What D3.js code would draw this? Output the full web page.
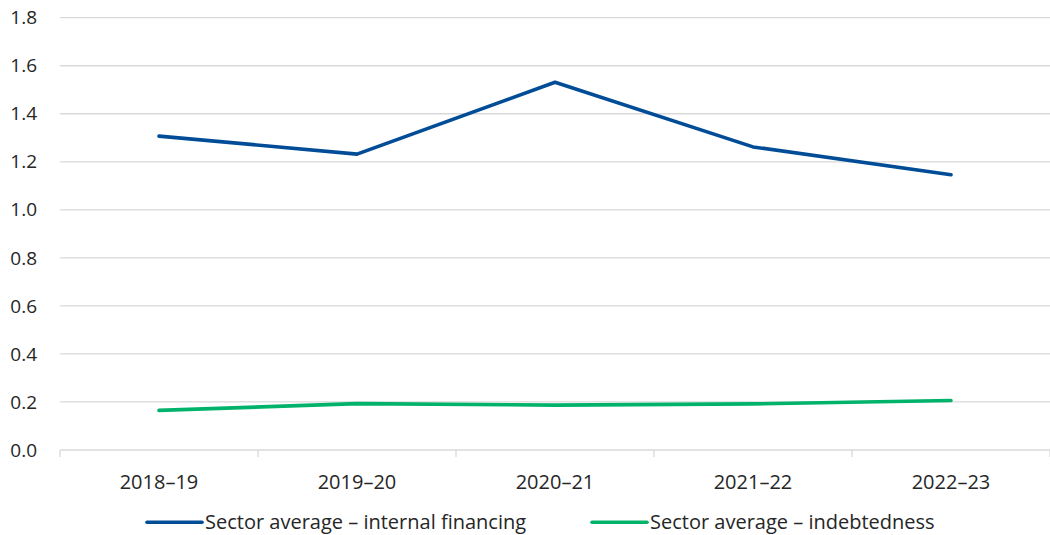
<!DOCTYPE html>
<html><head><meta charset="utf-8">
<script src="https://cdn.jsdelivr.net/npm/d3@7"></script>
<style>body{margin:0;background:#fff;font-family:"Open Sans","Noto Sans",sans-serif;}</style>
</head><body>
<svg id="c" width="1050" height="535"></svg>
<script>
const categories = ["2018–19","2019–20","2020–21","2021–22","2022–23"];
const internalFinancing = [1.307,1.232,1.531,1.262,1.146];
const indebtedness = [0.165,0.193,0.187,0.192,0.206];
const yTicks = [0,0.2,0.4,0.6,0.8,1.0,1.2,1.4,1.6,1.8];
const seriesNames = ["Sector average – internal financing","Sector average – indebtedness"];
const colors = ["#004C97","#00B26A"];

const svg = d3.select("#c");
const x = d3.scaleBand().domain(categories).range([60,1050]);
const y = d3.scaleLinear().domain([0,1.8]).range([450,17.7]);
const fs = 20;

svg.append("g").selectAll("line").data(yTicks.filter(d=>d>0)).join("line")
  .attr("x1",60).attr("x2",1050).attr("y1",d=>y(d)).attr("y2",d=>y(d))
  .attr("stroke","#d9d9d9").attr("stroke-width",1.3);

svg.append("g").selectAll("text").data(yTicks).join("text")
  .attr("x",37).attr("y",d=>y(d)).attr("dy","0.35em").attr("text-anchor","end")
  .attr("font-size",19).attr("fill","#262626").text(d=>d.toFixed(1));

svg.append("line").attr("x1",60).attr("x2",1050).attr("y1",y(0)).attr("y2",y(0))
  .attr("stroke","#d9d9d9").attr("stroke-width",1.3);
const bounds = categories.map(c=>x(c)).concat([x.range()[1]]);
svg.append("g").selectAll("line").data(bounds).join("line")
  .attr("x1",d=>d).attr("x2",d=>d).attr("y1",y(0)).attr("y2",y(0)+7)
  .attr("stroke","#d9d9d9").attr("stroke-width",1.3);
svg.append("g").selectAll("text").data(categories).join("text")
  .attr("x",d=>x(d)+x.bandwidth()/2).attr("y",482).attr("dy","0.35em").attr("text-anchor","middle")
  .attr("font-size",fs).attr("fill","#262626").text(d=>d);

const line = d3.line().x((d,i)=>x(categories[i])+x.bandwidth()/2).y(d=>y(d));
[internalFinancing, indebtedness].forEach((s,i)=>{
  svg.append("path").datum(s).attr("d",line).attr("fill","none")
    .attr("stroke",colors[i]).attr("stroke-width",3.6).attr("stroke-linejoin","round").attr("stroke-linecap","round");
});

const legX = [147,592];
seriesNames.forEach((n,i)=>{
  svg.append("line").attr("x1",legX[i]).attr("x2",legX[i]+55).attr("y1",522.3).attr("y2",522.3)
    .attr("stroke",colors[i]).attr("stroke-width",3.6).attr("stroke-linecap","round");
  svg.append("text").attr("x",legX[i]+58).attr("y",522).attr("dy","0.35em")
    .attr("font-size",fs).attr("fill","#262626").text(n);
});
</script>
</body></html>
